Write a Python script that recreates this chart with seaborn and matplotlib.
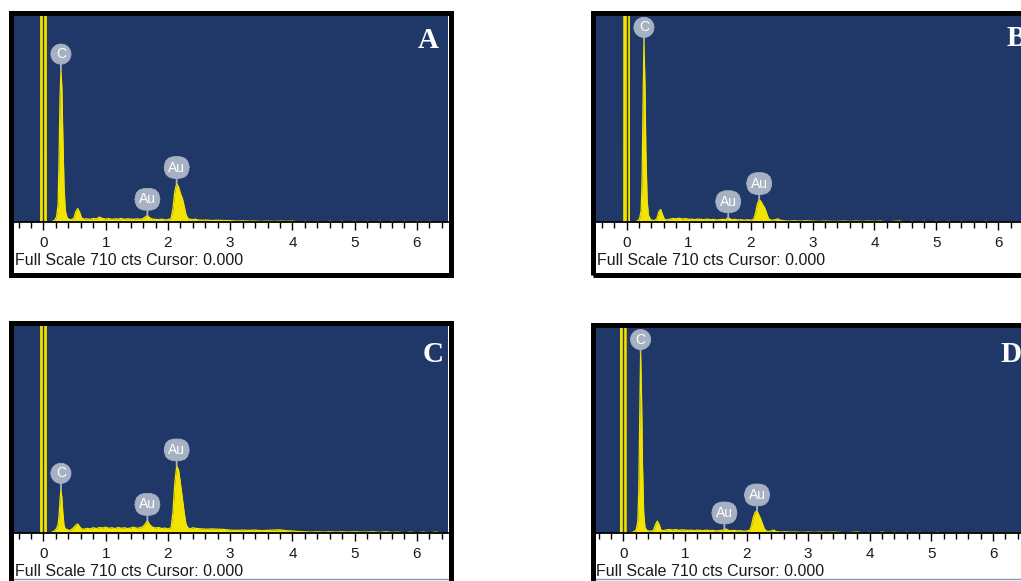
import numpy as np
import pandas as pd
import matplotlib
matplotlib.use("Agg")
import matplotlib.pyplot as plt
from matplotlib.patches import Rectangle
from matplotlib.lines import Line2D
from matplotlib.ticker import MultipleLocator
import seaborn as sns

# ---------------- data ----------------
energy = [0.10, 0.14, 0.18, 0.21, 0.235, 0.25, 0.265, 0.28, 0.295, 0.31, 0.33, 0.35, 0.38, 0.41,
          0.45, 0.49, 0.52, 0.55, 0.58, 0.61, 0.65,
          0.70, 0.75, 0.80, 0.85, 0.90, 0.95, 1.00, 1.05, 1.10, 1.15, 1.20, 1.25, 1.30, 1.35,
          1.40, 1.45, 1.50, 1.55, 1.60,
          1.64, 1.67, 1.70,
          1.75, 1.80, 1.85, 1.90, 1.95, 2.00, 2.05,
          2.08, 2.11, 2.14, 2.17, 2.20, 2.23, 2.26, 2.29, 2.32,
          2.36, 2.40, 2.44, 2.48,
          2.55, 2.62, 2.70,
          2.80, 2.90, 3.00, 3.10, 3.20, 3.30, 3.40, 3.50, 3.60, 3.70, 3.80, 3.90, 4.00,
          4.10, 4.20, 4.30, 4.40, 4.50, 4.60, 4.70, 4.80, 4.90, 5.00, 5.10, 5.20, 5.30,
          5.40, 5.50, 5.60, 5.70, 5.80, 5.90, 6.00, 6.10, 6.20, 6.30, 6.40]

counts_A = [0, 2, 6, 18, 60, 220, 420, 521, 460, 300, 120, 40, 14, 9,
            8, 14, 36, 46, 34, 14, 10,
            11, 9, 12, 11, 17, 12, 10, 12, 9, 11, 10, 12, 9, 11,
            10, 9, 11, 9, 12,
            18, 23, 15,
            10, 9, 8, 10, 7, 8, 12,
            45, 105, 132, 120, 98, 82, 55, 25, 12,
            9, 8, 10, 7,
            6, 7, 5,
            6, 5, 5, 3, 4, 3, 3, 2, 3, 2, 3, 2, 3,
            0, 2, 0, 2, 0, 2, 1, 2, 0, 2, 0, 2, 0,
            2, 0, 2, 0, 2, 0, 2, 0, 2, 0, 0]

counts_B = [0, 1, 4, 12, 40, 150, 400, 623, 480, 250, 80, 25, 10, 6,
            5, 12, 35, 43, 25, 9, 7,
            10, 12, 11, 13, 10, 12, 9, 10, 8, 10, 9, 8, 10, 8,
            9, 7, 8, 9, 8,
            15, 11, 8,
            9, 7, 8, 6, 8, 6, 9,
            30, 62, 77, 70, 58, 48, 30, 12, 7,
            6, 8, 11, 6,
            4, 3, 4,
            3, 4, 3, 2, 3, 2, 2, 3, 2, 3, 2, 3, 2,
            3, 0, 2, 3, 0, 2, 0, 2, 0, 2, 0, 2, 0,
            2, 0, 0, 0, 2, 0, 0, 0, 0, 0, 0]

counts_C = [0, 3, 8, 15, 30, 60, 110, 149, 120, 70, 25, 14, 12, 8,
            12, 20, 27, 31, 22, 14, 13,
            16, 14, 18, 15, 19, 17, 20, 16, 18, 15, 19, 16, 18, 15,
            17, 20, 16, 18, 22,
            32, 43, 30,
            20, 17, 19, 15, 17, 14, 18,
            70, 170, 229, 215, 170, 120, 70, 30, 18,
            14, 18, 16, 15,
            14, 13, 14,
            13, 12, 10, 9, 10, 9, 10, 8, 9, 10, 11, 8, 7,
            5, 4, 3, 4, 3, 4, 3, 4, 3, 4, 3, 3, 4,
            2, 4, 2, 3, 0, 3, 0, 3, 0, 3, 0]

counts_D = [0, 2, 5, 12, 40, 140, 380, 622, 470, 240, 70, 20, 9, 7,
            6, 10, 28, 41, 30, 10, 8,
            11, 12, 10, 12, 9, 11, 10, 9, 10, 8, 10, 9, 8, 10,
            8, 9, 7, 8, 9,
            12, 14, 9,
            8, 9, 7, 8, 6, 7, 9,
            25, 55, 72, 76, 62, 48, 30, 14, 7,
            5, 7, 10, 5,
            3, 4, 3,
            3, 2, 3, 2, 3, 2, 3, 2, 0, 2, 3, 0, 2,
            0, 3, 0, 2, 0, 2, 0, 2, 0, 0, 2, 0, 0,
            0, 0, 0, 0, 0, 0, 0, 0, 0, 0, 0]

zero_energy = [-0.055, -0.05, 0.05, 0.055]
zero_counts = [0, 5000, 5000, 0]

labels_A = [("C", 0.28, 521), ("Au", 1.67, 23), ("Au", 2.14, 132)]
labels_B = [("C", 0.28, 623), ("Au", 1.64, 15), ("Au", 2.14, 77)]
labels_C = [("C", 0.28, 149), ("Au", 1.67, 43), ("Au", 2.14, 229)]
labels_D = [("C", 0.28, 622), ("Au", 1.64, 14), ("Au", 2.17, 76)]

panel_letters = ["A", "B", "C", "D"]
tick_values = [0, 1, 2, 3, 4, 5, 6]
tick_labels = ["0", "1", "2", "3", "4", "5", "6"]
status_text = "Full Scale 710 cts Cursor: 0.000"
full_scale = 710

# ---------------- style ----------------
sns.set_style("white")
plt.rcParams["font.family"] = ["Liberation Sans", "DejaVu Sans"]

BLUE = "#1f3868"
YELLOW = "#f2e400"
DARK = "#3c3a1c"
BADGE = "#a7b1c4"

W, H = 1021, 581
fig = plt.figure(figsize=(W / 100, H / 100), dpi=100)
fig.patch.set_facecolor("white")


def fig_rect(x0, y0, x1, y1):
    return [x0 / W, 1 - y1 / H, (x1 - x0) / W, (y1 - y0) / H]


panels = [
    dict(counts=counts_A, labels=labels_A, letter=panel_letters[0], blue=(13, 15, 448, 222), xlim=(-0.49, 6.50),
         frame=(10.5, 12.5, 450.5, 274.5), status=(15, 260), letter_pos=(439, 48, "right"), cbadge=16, bottom=None),
    dict(counts=counts_B, labels=labels_B, letter=panel_letters[1], blue=(595, 15, 1030, 222), xlim=(-0.51, 6.51),
         frame=(592.5, 12.5, 1032.5, 274.5), status=(597, 260), letter_pos=(1007, 46, "left"), cbadge=13, bottom=None),
    dict(counts=counts_C, labels=labels_C, letter=panel_letters[2], blue=(13, 325, 448, 533), xlim=(-0.49, 6.50),
         frame=(10.5, 322.5, 450.5, 588), status=(15, 571), letter_pos=(444, 362, "right"), cbadge=16, bottom=579),
    dict(counts=counts_D, labels=labels_D, letter=panel_letters[3], blue=(595, 327, 1030, 533), xlim=(-0.46, 6.60),
         frame=(592.5, 324.5, 1032.5, 590), status=(596, 571), letter_pos=(1000, 362, "left"), cbadge=13, bottom=579),
]

for p in panels:
    ax = fig.add_axes(fig_rect(*p["blue"]))
    ax.set_facecolor(BLUE)
    df = pd.DataFrame({"energy": energy, "counts": p["counts"]})
    ax.fill_between(df["energy"], df["counts"], color=YELLOW, lw=0, zorder=2)
    sns.lineplot(data=df, x="energy", y="counts", color=YELLOW, lw=0.9, ax=ax, zorder=3)
    # zero-energy strobe peak
    ax.fill_between(zero_energy, zero_counts, color=YELLOW, lw=0, zorder=2)
    ax.vlines(float(np.mean(zero_energy)), 0, max(zero_counts), color=DARK, lw=1.0, zorder=3)

    ax.set_xlim(*p["xlim"])
    ax.set_ylim(0, full_scale)
    ax.set_xlabel("")
    ax.set_ylabel("")
    ax.set_yticks([])
    ax.set_xticks(tick_values)
    ax.set_xticklabels(tick_labels)
    ax.xaxis.set_minor_locator(MultipleLocator(0.2))
    ax.tick_params(axis="x", which="major", direction="out", length=6, width=1.0,
                   color="black", pad=4, labelsize=11, labelcolor="#1a1a1a", bottom=True)
    ax.tick_params(axis="x", which="minor", direction="out", length=4.5, width=1.0,
                   color="black", bottom=True)
    for s in ["top", "left", "right"]:
        ax.spines[s].set_visible(False)
    ax.spines["bottom"].set_color("black")
    ax.spines["bottom"].set_linewidth(1.3)
    ax.spines["bottom"].set_zorder(5)

    for txt, e, h in p["labels"]:
        off = p["cbadge"] if txt == "C" else 16
        style = "circle,pad=0.22" if txt == "C" else "round,pad=0.28,rounding_size=0.8"
        ax.annotate(txt, xy=(e, h), xytext=(0, off), textcoords="offset pixels",
                    ha="center", va="center", color="white", fontsize=10, zorder=6,
                    bbox=dict(boxstyle=style, fc=BADGE, ec=BADGE, lw=0.6),
                    arrowprops=dict(arrowstyle="-", color=BADGE, lw=1.3, shrinkA=0, shrinkB=0))

    lx, ly, lha = p["letter_pos"]
    fig.text(lx / W, 1 - ly / H, p["letter"], ha=lha, va="baseline", color="white",
             fontsize=21, fontweight="bold", family=["Liberation Serif", "DejaVu Serif"])

    sx, sy = p["status"]
    fig.text(sx / W, 1 - sy / H, status_text, ha="left", va="center", color="#1a1a1a", fontsize=11.5)

    if p["bottom"] is not None:
        x0, _, x1, _ = p["blue"]
        fig.add_artist(Line2D([x0 / W, x1 / W], [1 - p["bottom"] / H] * 2, color="#8a98b8", lw=1.0,
                              transform=fig.transFigure))

    fx0, fy0, fx1, fy1 = p["frame"]
    fig.add_artist(Rectangle((fx0 / W, 1 - fy1 / H), (fx1 - fx0) / W, (fy1 - fy0) / H,
                             transform=fig.transFigure, fill=False, ec="black", lw=3.6, zorder=10))

fig.savefig("out.png", dpi=100)
